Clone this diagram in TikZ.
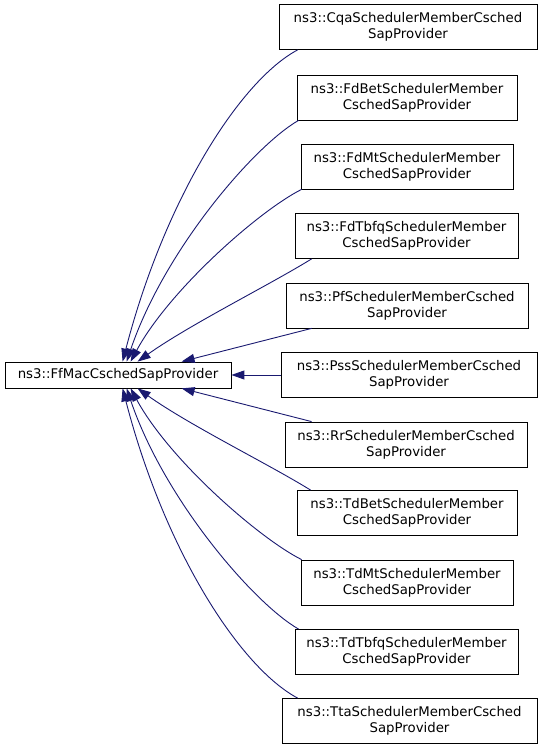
\documentclass[tikz,border=0pt]{standalone}
\usepackage{fontspec}
\setmainfont{DejaVu Sans}
\usetikzlibrary{arrows.meta}

\definecolor{edgeblue}{RGB}{25,25,112}

\begin{document}
\begin{tikzpicture}[x=1pt,y=1pt,
    inherit/.style={draw=edgeblue,line width=0.9pt,-{Triangle[length=13pt,width=9pt]}}]

      \useasboundingbox (0,0) rectangle (539,749);

      \begin{scope}[every node/.style={draw,line width=0.8pt,align=center,
          inner sep=2pt,minimum height=45pt,
          font=\fontsize{13.3}{16}\selectfont}]
        \node[minimum height=26pt,minimum width=226pt] (0) at (118,374)
          {ns3::FfMacCschedSapProvider};
        \node[minimum width=258pt] (1)  at (408,722)   {ns3::CqaSchedulerMemberCsched\\SapProvider};
        \node[minimum width=220pt] (2)  at (407,651.5) {ns3::FdBetSchedulerMember\\CschedSapProvider};
        \node[minimum width=212pt] (3)  at (407,582.5) {ns3::FdMtSchedulerMember\\CschedSapProvider};
        \node[minimum width=223pt] (4)  at (406.5,513) {ns3::FdTbfqSchedulerMember\\CschedSapProvider};
        \node[minimum width=242pt] (5)  at (407,443.5) {ns3::PfSchedulerMemberCsched\\SapProvider};
        \node[minimum width=256pt] (6)  at (409,374)   {ns3::PssSchedulerMemberCsched\\SapProvider};
        \node[minimum width=242pt] (7)  at (406,304.5) {ns3::RrSchedulerMemberCsched\\SapProvider};
        \node[minimum width=220pt] (8)  at (407,236)   {ns3::TdBetSchedulerMember\\CschedSapProvider};
        \node[minimum width=212pt] (9)  at (407,166.5) {ns3::TdMtSchedulerMember\\CschedSapProvider};
        \node[minimum width=223pt] (10) at (406.5,97)  {ns3::TdTbfqSchedulerMember\\CschedSapProvider};
        \node[minimum width=255pt] (11) at (409.5,28)  {ns3::TtaSchedulerMemberCsched\\SapProvider};
      \end{scope}

      % upper subclasses
      \draw[inherit] ([xshift=19pt]1.south west) .. controls +(-58,-31) and +(42,162) .. ([xshift=118pt]0.north west);
      \draw[inherit] ([xshift=2pt]2.south west)  .. controls +(-44,-25) and +(38,112) .. ([xshift=122pt]0.north west);
      \draw[inherit] ([xshift=1pt]3.south west)  .. controls +(-42,-21) and +(39,72)  .. ([xshift=126pt]0.north west);
      \draw[inherit] ([xshift=17pt]4.south west) .. controls +(-42,-26) and +(52,37)  .. ([xshift=133pt]0.north west);
      \draw[inherit] ([xshift=26pt]5.south west) -- ([xshift=177pt]0.north west);
      \draw[inherit] (6.west) -- (0.east);

      % lower subclasses
      \draw[inherit] ([xshift=27pt]7.north west) -- ([xshift=177pt]0.south west);
      \draw[inherit] ([xshift=14pt]8.north west) .. controls +(-42,26)  and +(52,-37)  .. ([xshift=133pt]0.south west);
      \draw[inherit] ([xshift=1pt]9.north west)  .. controls +(-42,21)  and +(39,-72)  .. ([xshift=126pt]0.south west);
      \draw[inherit] ([xshift=4pt]10.north west) .. controls +(-44,25)  and +(38,-112) .. ([xshift=122pt]0.south west);
      \draw[inherit] ([xshift=16pt]11.north west) .. controls +(-58,31) and +(42,-162) .. ([xshift=118pt]0.south west);

    \end{tikzpicture}
\end{document}
